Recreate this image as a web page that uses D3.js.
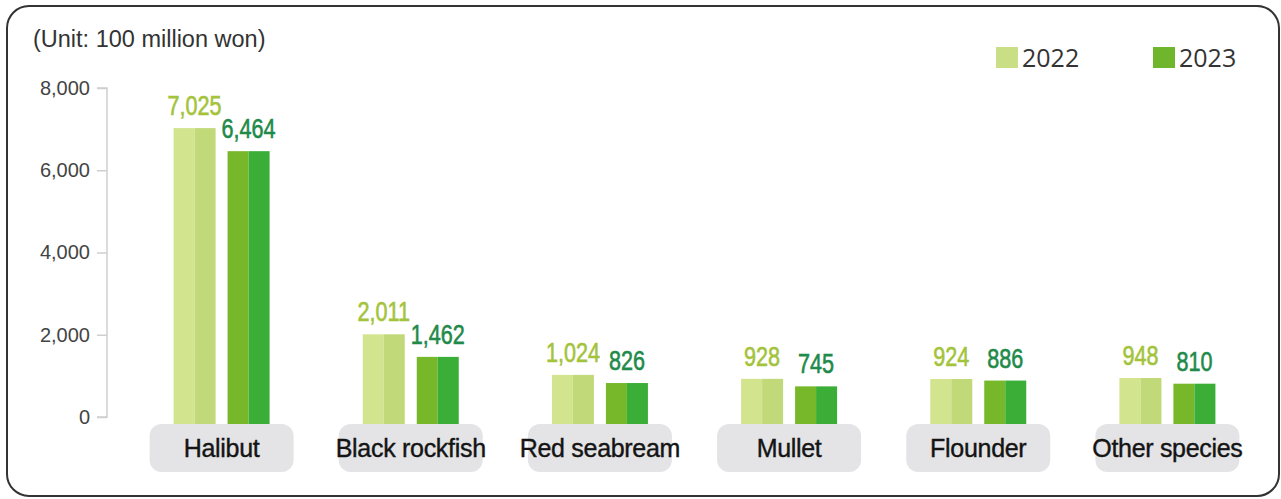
<!DOCTYPE html>
<html>
<head>
<meta charset="utf-8">
<script src="https://cdn.jsdelivr.net/npm/d3@7"></script>
<style>
  body { margin: 0; background: #fff; }
  svg { display: block; }
  .tick text { font-family: "Liberation Sans", Arial, sans-serif; }
</style>
</head>
<body>
<div id="chart"></div>
<script>
// Dados
const species = ["Halibut", "Black rockfish", "Red seabream", "Mullet", "Flounder", "Other species"];
const years = ["2022", "2023"];
const values2022 = [7025, 2011, 1024, 928, 924, 948];
const values2023 = [6464, 1462, 826, 745, 886, 810];
const yTicks = [0, 2000, 4000, 6000, 8000];

const W = 1281, H = 499;

// cores: metade esquerda / metade direita da barra
const colors = {
  "2022": { left: "#d3e48f", right: "#c1d979", label: "#a3c33b", legend: "#c9de85" },
  "2023": { left: "#77b82b", right: "#3bae38", label: "#1f8a4a", legend: "#6fb62c" }
};

const data = species.map((s, i) => ({
  species: s,
  values: [
    { year: "2022", value: values2022[i] },
    { year: "2023", value: values2023[i] }
  ]
}));

const svg = d3.select("#chart")
  .append("svg")
  .attr("width", W)
  .attr("height", H);

// moldura arredondada
svg.append("rect")
  .attr("x", 7).attr("y", 6)
  .attr("width", 1272).attr("height", 490)
  .attr("rx", 22).attr("ry", 22)
  .attr("fill", "#fff")
  .attr("stroke", "#333")
  .attr("stroke-width", 2);

// Escalas
const x0 = d3.scaleBand()
  .domain(species)
  .range([127, 1262]);

const x1 = d3.scaleBand()
  .domain(years)
  .range([-48, 48])
  .paddingInner(0.222);

const y = d3.scaleLinear()
  .domain([0, 8000])
  .range([417, 88]);

const barBase = y(0) + 7;

// Eixo Y
const yAxis = d3.axisLeft(y)
  .tickValues(yTicks)
  .tickFormat(d3.format(","))
  .tickSize(10)
  .tickPadding(7);

const gy = svg.append("g")
  .attr("transform", "translate(107,0)")
  .call(yAxis);
gy.select(".domain").attr("stroke", "#cfcfcf").attr("stroke-width", 1.5)
  .attr("d", `M-10,${y(8000)}H0V${y(0)}H-10`);
gy.selectAll(".tick line").attr("stroke", "#cfcfcf").attr("stroke-width", 1.5);
gy.selectAll(".tick text")
  .attr("fill", "#444")
  .style("font-size", "20px");

// unidade
svg.append("text")
  .attr("x", 33).attr("y", 47)
  .attr("fill", "#333")
  .style("font-family", "'Liberation Sans', Arial, sans-serif")
  .style("font-size", "23.5px")
  .text("(Unit: 100 million won)");

// Legenda
const legend = svg.append("g");
const legendX = [996, 1153];
years.forEach((yr, i) => {
  legend.append("rect")
    .attr("x", legendX[i]).attr("y", 47)
    .attr("width", 22).attr("height", 21)
    .attr("fill", colors[yr].legend);
  legend.append("text")
    .attr("x", legendX[i] + 26).attr("y", 67)
    .attr("fill", "#333")
    .style("font-family", "'Open Sans', 'Noto Sans', sans-serif")
    .style("font-size", "25px")
    .text(yr);
});

// Pílulas das categorias
const pills = svg.append("g");
pills.selectAll("rect")
  .data(species)
  .enter().append("rect")
  .attr("x", d => x0(d) + x0.bandwidth() / 2 - 72)
  .attr("y", 424)
  .attr("width", 144)
  .attr("height", 48)
  .attr("rx", 12)
  .attr("fill", "#e4e4e6");

pills.selectAll("text")
  .data(species)
  .enter().append("text")
  .attr("x", d => x0(d) + x0.bandwidth() / 2)
  .attr("y", 457)
  .attr("text-anchor", "middle")
  .attr("fill", "#141414")
  .attr("stroke", "#141414")
  .attr("stroke-width", 0.4)
  .style("font-family", "'Liberation Sans', Arial, sans-serif")
  .style("font-size", "25px")
  .style("letter-spacing", "-0.3px")
  .text(d => d);

// Barras
const groups = svg.selectAll(".group")
  .data(data)
  .enter().append("g")
  .attr("class", "group")
  .attr("transform", d => `translate(${x0(d.species) + x0.bandwidth() / 2},0)`);

const bars = groups.selectAll(".bar")
  .data(d => d.values)
  .enter().append("g")
  .attr("class", "bar");

bars.append("rect")
  .attr("x", d => x1(d.year))
  .attr("y", d => y(d.value))
  .attr("width", x1.bandwidth() / 2)
  .attr("height", d => barBase - y(d.value))
  .attr("fill", d => colors[d.year].left);

bars.append("rect")
  .attr("x", d => x1(d.year) + x1.bandwidth() / 2)
  .attr("y", d => y(d.value))
  .attr("width", x1.bandwidth() / 2)
  .attr("height", d => barBase - y(d.value))
  .attr("fill", d => colors[d.year].right);

// Rótulos dos valores (fonte estreitada com scaleX)
bars.append("text")
  .attr("transform", d => `translate(${x1(d.year) + x1.bandwidth() / 2},${y(d.value) - 13}) scale(0.8,1)`)
  .attr("text-anchor", "middle")
  .attr("fill", d => colors[d.year].label)
  .attr("stroke", d => colors[d.year].label)
  .attr("stroke-width", 0.6)
  .style("font-family", "'Liberation Sans', Arial, sans-serif")
  .style("font-size", "27px")
  .text(d => d3.format(",")(d.value));
</script>
</body>
</html>
